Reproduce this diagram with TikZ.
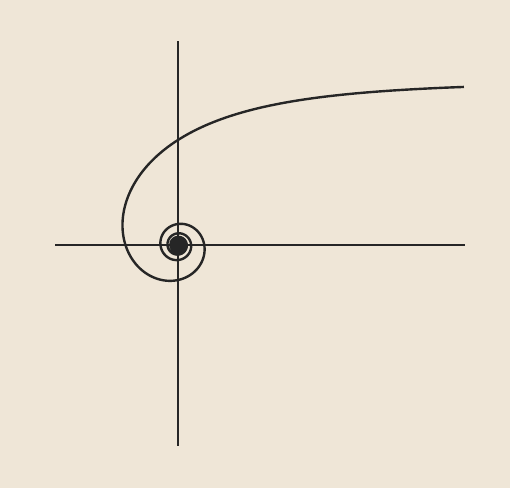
\documentclass[tikz,border=0pt]{standalone}
\definecolor{bg}{HTML}{EFE6D7}
\definecolor{ink}{HTML}{262626}
\begin{document}
\begin{tikzpicture}[x=1pt,y=-1pt,
  axis/.style={draw=ink,line width=2pt},
  spiral/.style={draw=ink,line width=2.4pt,line join=round}]
\fill[bg] (0,0) rectangle (510,488);
\useasboundingbox (0,0) rectangle (510,488);
\coordinate (hl) at (55,245);
\coordinate (hr) at (465,245);
\coordinate (vt) at (178,41);
\coordinate (vb) at (178,446);
\coordinate (o) at (178,245);
\draw[axis] (hl) -- (hr);
\draw[axis] (vt) -- (vb);
\draw[spiral] plot[domain=0.505:90,samples=3000,variable=\t,smooth]
  ({178+165*cos(\t r)/\t},{245-165*sin(\t r)/\t});
\fill[ink] (o) circle (8);
\end{tikzpicture}
\end{document}
